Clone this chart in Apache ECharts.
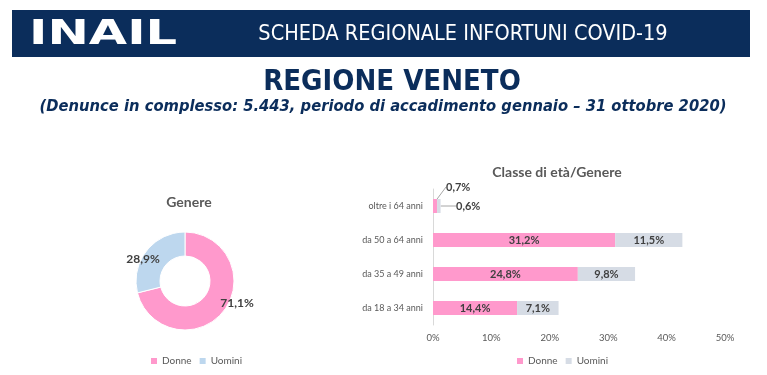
<!DOCTYPE html>
<html><head><meta charset="utf-8">
<script src="https://cdn.jsdelivr.net/npm/echarts@6/dist/echarts.min.js"></script>
<style>html,body{margin:0;padding:0;background:#fff}#c{width:767px;height:375px}</style>
</head><body><div id="c"></div>
<script>
const genderNames = ['Donne', 'Uomini'];
const genderValues = [71.1, 28.9];
const ageCategories = ['oltre i 64 anni', 'da 50 a 64 anni', 'da 35 a 49 anni', 'da 18 a 34 anni'];
const donneValues = [0.7, 31.2, 24.8, 14.4];
const uominiValues = [0.6, 11.5, 9.8, 7.1];
const xTicks = [0, 10, 20, 30, 40, 50];

const fmt = v => v.toFixed(1).replace('.', ',') + '%';
const navy = '#0b2d5b';
const chart = echarts.init(document.getElementById('c'), null, {renderer: 'canvas'});
chart.setOption({
  animation: false,
  graphic: [
    {type: 'rect', shape: {x: 12, y: 10, width: 738, height: 47}, style: {fill: navy}},
    {type: 'text', x: 29, y: 35, scaleX: 1.5, style: {text: 'INAIL', fill: '#fff', font: 'bold 33px "DejaVu Sans"', verticalAlign: 'middle'}},
    {type: 'text', x: 463, y: 34, style: {text: 'SCHEDA REGIONALE INFORTUNI COVID-19', fill: '#fff', font: '21.5px "DejaVu Sans Condensed"', align: 'center', verticalAlign: 'middle'}},
    {type: 'text', x: 392, y: 82, style: {text: 'REGIONE VENETO', fill: navy, font: 'bold 29px "DejaVu Sans Condensed"', align: 'center', verticalAlign: 'middle'}},
    {type: 'text', x: 383, y: 107, style: {text: '(Denunce in complesso: 5.443, periodo di accadimento gennaio \u2013 31 ottobre 2020)', fill: navy, font: 'italic bold 16.4px "DejaVu Sans Condensed"', align: 'center', verticalAlign: 'middle'}}
  ],
  title: [
    {text: 'Genere', left: 184, top: 190, textAlign: 'center', textStyle: {fontFamily: 'Lato', fontSize: 14, fontWeight: 'bold', color: '#595959'}},
    {text: 'Classe di et\u00e0/Genere', left: 552, top: 160, textAlign: 'center', textStyle: {fontFamily: 'Lato', fontSize: 14, fontWeight: 'bold', color: '#595959'}}
  ],
  legend: [
    {left: 146, top: 351, itemWidth: 6, itemHeight: 6, itemGap: 8, icon: 'rect',
     textStyle: {fontFamily: 'Lato', fontSize: 10, color: '#595959'},
     data: [{name: 'Donne', itemStyle: {color: '#ff99cc'}}, {name: 'Uomini', itemStyle: {color: '#bdd7ee'}}]},
    {left: 512, top: 351, itemWidth: 6, itemHeight: 6, itemGap: 8, icon: 'rect',
     textStyle: {fontFamily: 'Lato', fontSize: 10, color: '#595959'},
     data: [{name: 'Donne', itemStyle: {color: '#ff99cc'}}, {name: 'Uomini', itemStyle: {color: '#d6dce5'}}]}
  ],
  grid: {left: 433, right: 42, top: 189, bottom: 50, containLabel: false},
  xAxis: {type: 'value', min: 0, max: 50, interval: 10,
    axisLine: {show: false}, axisTick: {show: false}, splitLine: {show: false},
    axisLabel: {formatter: '{value}%', fontFamily: 'Lato', fontSize: 9.5, color: '#595959', margin: 8}},
  yAxis: {type: 'category', inverse: true, data: ageCategories,
    axisLine: {show: true, lineStyle: {color: '#d9d9d9', width: 1}}, axisTick: {show: false},
    axisLabel: {fontFamily: 'Lato', fontSize: 9, color: '#595959', margin: 10}},
  series: [
    {type: 'pie', center: [185, 281], radius: [25, 49], startAngle: 90, clockwise: true,
     itemStyle: {borderColor: '#fff', borderWidth: 1},
     label: {show: true, position: 'inside', formatter: p => fmt(p.value), fontFamily: 'Lato', fontSize: 12, fontWeight: 'bold', color: '#404040'},
     labelLayout: p => p.dataIndex === 0 ? {x: 237, y: 303, align: 'center', verticalAlign: 'middle'} : {x: 143, y: 259, align: 'center', verticalAlign: 'middle'},
     data: genderNames.map((n, i) => ({name: n, value: genderValues[i], itemStyle: {color: i === 0 ? '#ff99cc' : '#bdd7ee'}}))},
    {type: 'bar', name: 'Donne', stack: 's', barWidth: 14, data: donneValues,
     itemStyle: {color: '#ff99cc'},
     label: {show: true, position: 'inside', formatter: p => fmt(p.value), fontFamily: 'Lato', fontSize: 11, fontWeight: 'bold', color: '#404040'},
     labelLine: {show: true, lineStyle: {color: '#a6a6a6', width: 1}},
     labelLayout: p => p.dataIndex === 0 ? {x: 446, y: 187, align: 'left', verticalAlign: 'middle'} : {}},
    {type: 'bar', name: 'Uomini', stack: 's', barWidth: 14, data: uominiValues,
     itemStyle: {color: '#d6dce5'},
     label: {show: true, position: 'inside', formatter: p => fmt(p.value), fontFamily: 'Lato', fontSize: 11, fontWeight: 'bold', color: '#404040'},
     labelLine: {show: true, lineStyle: {color: '#a6a6a6', width: 1}},
     labelLayout: p => p.dataIndex === 0 ? {x: 456, y: 206, align: 'left', verticalAlign: 'middle'} : {}}
  ]
});
</script></body></html>
